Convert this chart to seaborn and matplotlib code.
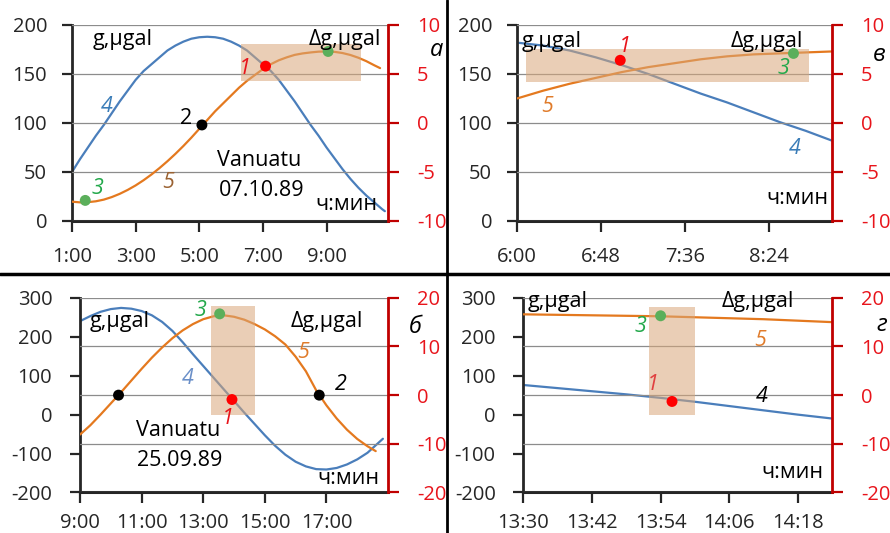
import matplotlib.pyplot as plt
import seaborn as sns
from matplotlib.lines import Line2D
from matplotlib.patches import Rectangle

# panel а  (Vanuatu 07.10.89)
a_time = ["1:00", "1:15", "1:30", "1:45", "2:00", "2:15", "2:30", "2:45", "3:00", "3:15", "3:30", "3:45",
          "4:00", "4:15", "4:30", "4:45", "5:00", "5:15", "5:30", "5:45", "6:00", "6:15", "6:30", "6:45",
          "7:00", "7:15", "7:30", "7:45", "8:00", "8:15", "8:30", "8:45", "9:00", "9:15", "9:30", "9:45",
          "10:00", "10:15", "10:30", "10:45", "10:50"]
a_g = [50, 63, 75, 87, 98, 110, 122, 133, 144, 153, 160, 167,
       174, 179, 183, 186, 187.5, 188, 187.5, 186, 183, 179, 174, 167,
       160, 153, 144, 133, 122, 110, 98, 87, 75, 64, 53, 43,
       34, 26, 19, 12, 10]
a_dg_time = ["1:00", "1:15", "1:30", "1:45", "2:00", "2:15", "2:30", "2:45", "3:00", "3:15", "3:30", "3:45",
             "4:00", "4:15", "4:30", "4:45", "5:00", "5:15", "5:30", "5:45", "6:00", "6:15", "6:30", "6:45",
             "7:00", "7:15", "7:30", "7:45", "8:00", "8:15", "8:30", "8:45", "9:00", "9:15", "9:30", "9:45",
             "10:00", "10:15", "10:30", "10:41"]
a_dg = [-8.03, -8.1, -8.08, -7.99, -7.82, -7.56, -7.23, -6.83, -6.37, -5.84, -5.25, -4.6,
        -3.9, -3.15, -2.35, -1.5, -0.6, 0.3, 1.2, 2.0, 2.8, 3.6, 4.3, 4.9,
        5.5, 6.0, 6.4, 6.7, 6.95, 7.1, 7.2, 7.28, 7.3, 7.26, 7.14, 6.94,
        6.66, 6.31, 5.89, 5.6]
a_pt_time = ["1:25", "5:05", "7:05", "9:03"]
a_pt_val = [-7.9, -0.2, 5.8, 7.3]
a_pt_num = ["3", "2", "1", "3"]
a_box_time = ["6:18", "10:05"]
a_box_val = [4.3, 8.1]
a_ticks = ["1:00", "3:00", "5:00", "7:00", "9:00"]
a_xlim = ["1:00", "10:56"]

# panel в
v_time = ["6:00", "6:15", "6:30", "6:45", "7:00", "7:15", "7:30", "7:45", "8:00", "8:15", "8:30", "8:45", "9:00"]
v_g = [182, 179, 174, 167, 159, 150, 140, 130, 121, 111, 101, 92, 82]
v_dg = [2.5, 3.3, 4.0, 4.6, 5.2, 5.7, 6.1, 6.5, 6.8, 7.0, 7.1, 7.2, 7.3]
v_pt_time = ["6:59", "8:38"]
v_pt_val = [6.4, 7.1]
v_pt_num = ["1", "3"]
v_box_time = ["6:05", "8:47"]
v_box_val = [4.2, 7.6]
v_ticks = ["6:00", "6:48", "7:36", "8:24"]
v_xlim = ["6:00", "9:00"]

# panel б  (Vanuatu 25.09.89)
b_time = ["9:00", "9:20", "9:40", "10:00", "10:20", "10:40", "11:00", "11:20", "11:40", "12:00", "12:20",
          "12:40", "13:00", "13:20", "13:40", "14:00", "14:20", "14:40", "15:00", "15:20", "15:40", "16:00",
          "16:20", "16:40", "17:00", "17:20", "17:40", "18:00", "18:20", "18:40", "18:50"]
b_g = [240, 253, 264, 271, 274, 272, 266, 255, 238, 215, 186,
       155, 125, 95, 65, 35, 5, -24, -53, -80, -103, -121,
       -133, -140, -141, -137, -128, -115, -98, -74, -62]
b_dg_time = ["9:00", "9:20", "9:40", "10:00", "10:20", "10:40", "11:00", "11:20", "11:40", "12:00", "12:20",
             "12:40", "13:00", "13:20", "13:40", "14:00", "14:20", "14:40", "15:00", "15:20", "15:40", "16:00",
             "16:20", "16:40", "17:00", "17:20", "17:40", "18:00", "18:20", "18:36"]
b_dg = [-8.1, -6.2, -4.0, -1.7, 0.6, 3.0, 5.4, 7.7, 9.8, 11.7, 13.3,
        14.6, 15.6, 16.2, 16.4, 16.1, 15.5, 14.6, 13.5, 12.1, 10.4, 7.9,
        4.9, 1.0, -2.1, -4.8, -7.1, -9.0, -10.5, -11.5]
b_pt_time = ["10:15", "13:32", "13:56", "16:46"]
b_pt_val = [0.0, 16.7, -0.9, 0.0]
b_pt_num = ["2", "3", "1", "2"]
b_box_time = ["13:15", "14:40"]
b_box_val = [-4.0, 18.4]
b_ticks = ["9:00", "11:00", "13:00", "15:00", "17:00"]
b_xlim = ["9:00", "19:00"]

# panel г
c_time = ["13:30", "13:36", "13:42", "13:48", "13:54", "14:00", "14:06", "14:12", "14:18", "14:24"]
c_g = [76, 68, 60, 52, 43, 33, 22, 11, 0, -10]
c_dg = [16.6, 16.5, 16.4, 16.3, 16.2, 16.0, 15.8, 15.6, 15.3, 15.0]
c_pt_time = ["13:54", "13:56"]
c_pt_val = [16.3, -1.3]
c_pt_num = ["3", "1"]
c_box_time = ["13:52", "14:00"]
c_box_val = [-4.1, 18.1]
c_ticks = ["13:30", "13:42", "13:54", "14:06", "14:18"]
c_xlim = ["13:30", "14:24"]

sns.set_style("white")
plt.rcParams['font.family'] = ['Open Sans', 'DejaVu Sans']
plt.rcParams['axes.unicode_minus'] = False

BLUE = '#4A7EBB'
ORANGE = '#E4791F'
DARKRED = '#C00000'
RED = '#E8141B'
pt_colors = {"1": "#FF0000", "2": "#000000", "3": "#5BAF5B"}


def hrs(s):
    h, m = s.split(":")
    return int(h) + int(m) / 60


fig = plt.figure(figsize=(8.9, 5.33), dpi=100)


def panel(pos, g_t, g_v, d_t, d_v, p_t, p_v, p_n, box_t, box_v, xlim, ticks, gl, dl, lpad, xpad):
    ax = fig.add_axes(pos)
    ax2 = ax.twinx()
    sns.lineplot(x=[hrs(t) for t in g_t], y=g_v, ax=ax, color=BLUE, lw=1.6)
    sns.lineplot(x=[hrs(t) for t in d_t], y=d_v, ax=ax2, color=ORANGE, lw=1.6, zorder=2)
    x0, x1 = hrs(box_t[0]), hrs(box_t[1])
    ax2.add_patch(Rectangle((x0, box_v[0]), x1 - x0, box_v[1] - box_v[0],
                            facecolor='#D9A77A', alpha=0.55, lw=0, zorder=3))
    sns.scatterplot(x=[hrs(t) for t in p_t], y=p_v, hue=p_n, palette=pt_colors, s=62,
                    edgecolor='none', legend=False, ax=ax2, zorder=4)

    ax.set_xlim(hrs(xlim[0]), hrs(xlim[1]))
    ax.set_xticks([hrs(t) for t in ticks])
    ax.set_xticklabels(ticks)
    ax.set_ylim(gl[0], gl[-1])
    ax.set_yticks(gl)
    ax2.set_ylim(dl[0], dl[-1])
    ax2.set_yticks(dl)
    ax.set_xlabel("")
    ax.set_ylabel("")
    ax2.set_ylabel("")

    ax.grid(False)
    ax2.grid(axis='y', color='#8C8C8C', lw=0.9)
    ax2.grid(axis='x', visible=False)
    ax2.set_axisbelow(True)

    for s in ['top', 'right']:
        ax.spines[s].set_visible(False)
    for s in ['top', 'left', 'bottom']:
        ax2.spines[s].set_visible(False)
    ax.spines['left'].set_linewidth(2)
    ax.spines['bottom'].set_linewidth(2.2)
    ax2.spines['right'].set_linewidth(2)
    ax2.spines['right'].set_color(DARKRED)

    ax.tick_params(axis='y', direction='out', length=7, width=1.6, labelsize=14.5, pad=lpad, left=True)
    ax.tick_params(axis='x', direction='out', length=8, width=1.6, labelsize=14.5, pad=xpad, bottom=True)
    ax2.tick_params(axis='y', direction='out', length=8, width=1.6, color=DARKRED, labelcolor=RED,
                    labelsize=14.5, pad=13, right=True)
    return ax, ax2


panel([0.0809, 0.5854, 0.3551, 0.3677], a_time, a_g, a_dg_time, a_dg, a_pt_time, a_pt_val, a_pt_num,
      a_box_time, a_box_val, a_xlim, a_ticks, [0, 50, 100, 150, 200], [-10, -5, 0, 5, 10], 11, 11)
panel([0.5809, 0.5854, 0.3539, 0.3677], v_time, v_g, v_time, v_dg, v_pt_time, v_pt_val, v_pt_num,
      v_box_time, v_box_val, v_xlim, v_ticks, [0, 50, 100, 150, 200], [-10, -5, 0, 5, 10], 11, 11)
panel([0.0899, 0.0760, 0.3461, 0.3653], b_time, b_g, b_dg_time, b_dg, b_pt_time, b_pt_val, b_pt_num,
      b_box_time, b_box_val, b_xlim, b_ticks, [-200, -100, 0, 100, 200, 300], [-20, -10, 0, 10, 20], 13, 7)
panel([0.5882, 0.0760, 0.3466, 0.3653], c_time, c_g, c_time, c_dg, c_pt_time, c_pt_val, c_pt_num,
      c_box_time, c_box_val, c_xlim, c_ticks, [-200, -100, 0, 100, 200, 300], [-20, -10, 0, 10, 20], 13, 7)


def note(x, y, s, size=15.5, color='black', style='normal'):
    fig.text(x / 890, 1 - y / 533, s, ha='center', va='center', fontsize=size, color=color, style=style)


# panel а labels
note(123, 40, "g,μgal")
note(345, 39, "Δg,μgal")
note(437, 50, "а", size=17, style='italic')
note(107, 106, "4", color='#3B7DB8', style='italic')
note(168, 183, "5", color='#9A6232', style='italic')
note(186, 118, "2")
note(245, 68, "1", color='#E8141B', style='italic')
note(97, 188, "3", color='#22A84A', style='italic')
note(259, 160, "Vanuatu")
note(262, 191, "07.10.89")
note(346, 204, "ч:мин")

# panel в labels
note(552, 41, "g,μgal")
note(767, 41, "Δg,μgal")
note(625, 46, "1", color='#E8141B', style='italic')
note(783, 68, "3", color='#22A84A', style='italic')
note(879, 55, "в", size=17, style='italic')
note(547, 106, "5", color='#E07B2A', style='italic')
note(795, 148, "4", color='#3B7DB8', style='italic')
note(797, 199, "ч:мин")

# panel б labels
note(120, 322, "g,μgal")
note(327, 322, "Δg,μgal")
note(415, 327, "б", size=17, style='italic')
note(200, 311, "3", color='#22A84A', style='italic')
note(303, 352, "5", color='#E07B2A', style='italic')
note(188, 379, "4", color='#6A8FC8', style='italic')
note(341, 384, "2", style='italic')
note(228, 418, "1", color='#E8141B', style='italic')
note(178, 431, "Vanuatu")
note(180, 461, "25.09.89")
note(348, 479, "ч:мин")

# panel г labels
note(558, 301, "g,μgal")
note(758, 301, "Δg,μgal")
note(882, 325, "г", size=17, style='italic')
note(640, 327, "3", color='#22A84A', style='italic')
note(760, 341, "5", color='#E07B2A', style='italic')
note(653, 384, "1", color='#E04040', style='italic')
note(762, 397, "4", style='italic')
note(792, 472, "ч:мин")

# frame lines between the panels
fig.add_artist(Line2D([0, 1], [1 - 274 / 533] * 2, color='black', lw=2.5, transform=fig.transFigure))
fig.add_artist(Line2D([447 / 890] * 2, [0, 1], color='black', lw=2, transform=fig.transFigure))

fig.savefig("out.png", dpi=100)
